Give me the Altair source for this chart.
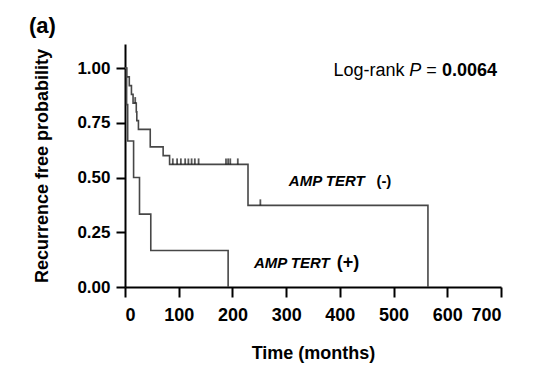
import altair as alt
import pandas as pd

# Kaplan-Meier steps
neg_t = [0, 3, 8, 12, 15, 21, 22, 25, 47, 71, 83, 229, 564]
neg_s = [1.0, 0.96, 0.92, 0.88, 0.84, 0.80, 0.76, 0.72, 0.64, 0.60, 0.56, 0.373, 0.0]
pos_t = [0, 3, 5, 16, 27, 48, 192]
pos_s = [1.0, 0.833, 0.667, 0.5, 0.333, 0.167, 0.0]

# censor marks on the AMP TERT (-) curve
cens_t = [19, 89, 97, 104, 112, 118, 124, 130, 137, 188, 192, 196, 210, 252]
cens_s = [0.84, 0.56, 0.56, 0.56, 0.56, 0.56, 0.56, 0.56, 0.56, 0.56, 0.56, 0.56, 0.56, 0.373]

x_ticks = [0, 100, 200, 300, 400, 500, 600, 700]
y_ticks = [0.0, 0.25, 0.5, 0.75, 1.0]

FONT = "Liberation Sans"

curves = pd.DataFrame(
    {"t": neg_t + pos_t,
     "s": neg_s + pos_s,
     "grp": ["neg"] * len(neg_t) + ["pos"] * len(pos_t)}
)
cens = pd.DataFrame({"t": cens_t, "s": cens_s})

xsc = alt.Scale(domain=[0, 700], nice=False, zero=False)
ysc = alt.Scale(domain=[0, 1.11], nice=False)

x_enc = alt.X("t:Q", scale=xsc,
              axis=alt.Axis(values=x_ticks, title="Time (months)", titlePadding=20,
                            labelPadding=9, tickSize=10, format="d", labelFontSize=18))
y_enc = alt.Y("s:Q", scale=ysc,
              axis=alt.Axis(values=y_ticks, format=".2f", title="Recurrence free probability",
                            titlePadding=25, labelPadding=6, tickSize=9))

lines = alt.Chart(curves).mark_line(
    interpolate="step-after", color="#474747", strokeWidth=1.6
).encode(x=x_enc, y=y_enc, detail="grp:N")

ticks = alt.Chart(cens).mark_tick(
    orient="vertical", color="#111111", thickness=1.8, size=6, yOffset=-3
).encode(x=alt.X("t:Q", scale=xsc), y=alt.Y("s:Q", scale=ysc))

# annotation texts
ann_text = ["Log-rank", "P", "=", "0.0064"]
ann_t = [388, 529, 561, 590]
ann_s = [0.963, 0.963, 0.963, 0.963]
ann_style = ["normal", "italic", "normal", "normal"]
ann_weight = ["normal", "normal", "normal", "bold"]

layers = [lines, ticks]
for txt, tt, ss, st, wt in zip(ann_text, ann_t, ann_s, ann_style, ann_weight):
    layers.append(
        alt.Chart(pd.DataFrame({"t": [tt], "s": [ss], "label": [txt]})).mark_text(
            align="left", baseline="alphabetic", font=FONT, fontSize=18,
            fontStyle=st, fontWeight=wt, color="black"
        ).encode(x=alt.X("t:Q", scale=xsc), y=alt.Y("s:Q", scale=ysc), text="label:N")
    )

lab_text = ["AMP TERT", "(-)", "AMP TERT", "(+)"]
lab_t = [305, 468, 240, 394]
lab_s = [0.461, 0.461, 0.085, 0.085]
lab_style = ["italic", "normal", "italic", "normal"]
lab_size = [15, 15, 15, 18]
for txt, tt, ss, st, fs in zip(lab_text, lab_t, lab_s, lab_style, lab_size):
    layers.append(
        alt.Chart(pd.DataFrame({"t": [tt], "s": [ss], "label": [txt]})).mark_text(
            align="left", baseline="alphabetic", font=FONT, fontSize=fs,
            fontStyle=st, fontWeight="bold", color="black"
        ).encode(x=alt.X("t:Q", scale=xsc), y=alt.Y("s:Q", scale=ysc), text="label:N")
    )

panel = alt.Chart(pd.DataFrame({"label": ["(a)"]})).mark_text(
    align="left", baseline="alphabetic", font=FONT, fontSize=22, fontWeight="bold", color="black"
).encode(x=alt.value(-96), y=alt.value(-11), text="label:N")
layers.append(panel)

chart = alt.layer(*layers).properties(
    width=376, height=243,
    autosize=alt.AutoSizeParams(type="none"),
    padding={"left": 117, "top": 36, "right": 20, "bottom": 80},
).configure_view(stroke=None).configure_axis(
    grid=False,
    domainColor="black", domainWidth=2,
    tickColor="black", tickWidth=2,
    labelFont=FONT, labelFontSize=17, labelFontWeight="bold", labelColor="black",
    titleFont=FONT, titleFontSize=18, titleFontWeight="bold", titleColor="black",
)

chart.save("out.html", embed_options={"renderer": "svg", "actions": False})
